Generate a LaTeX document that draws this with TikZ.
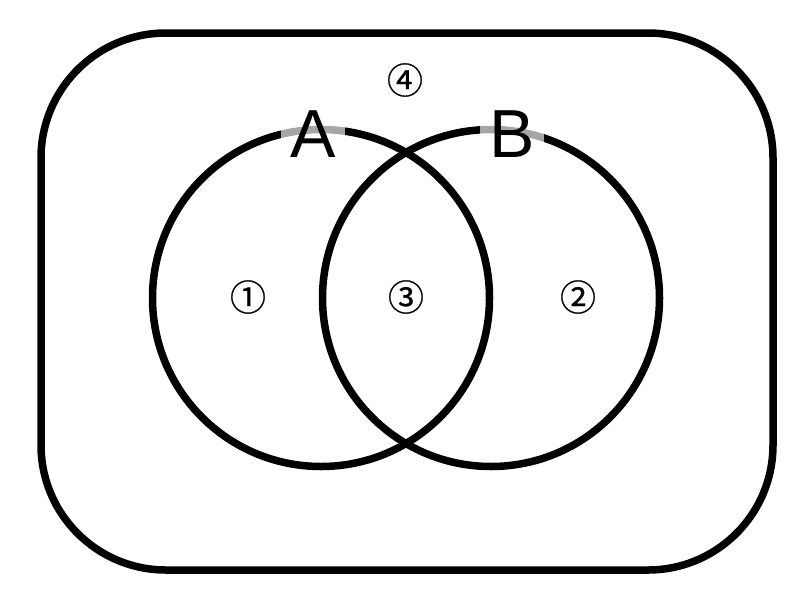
\documentclass[tikz,border=0pt]{standalone}
\usepackage{fontspec}
\setmainfont{Liberation Sans}
\newfontfamily\symfont[FakeBold=0.6]{Noto Sans CJK JP}
\begin{document}
\begin{tikzpicture}[x=1pt,y=-1pt,
  outline/.style={line width=7.5pt,draw=black},
  setlabel/.style={font=\fontsize{68}{68}\selectfont,fill=white,fill opacity=0.65,text opacity=1,inner xsep=9pt,inner ysep=0pt},
  region/.style={font=\symfont\fontsize{36}{36}\selectfont,inner sep=0pt}]
\useasboundingbox (0,0) rectangle (800,600);
\draw[outline,rounded corners=125pt] (41,33) rectangle (773,570);
\node[outline,circle,minimum size=337pt,inner sep=0pt] (cA) at (321,298) {};
\node[outline,circle,minimum size=337pt,inner sep=0pt] (cB) at (491,298) {};
\node[setlabel] (lA) at (313,134) {A};
\node[setlabel] (lB) at (512,134) {B};
\node[region] (r1) at (248,297) {①};
\node[region] (r2) at (578,297) {②};
\node[region] (r3) at (406,297) {③};
\node[region] (r4) at (405,80) {④};
\end{tikzpicture}
\end{document}
